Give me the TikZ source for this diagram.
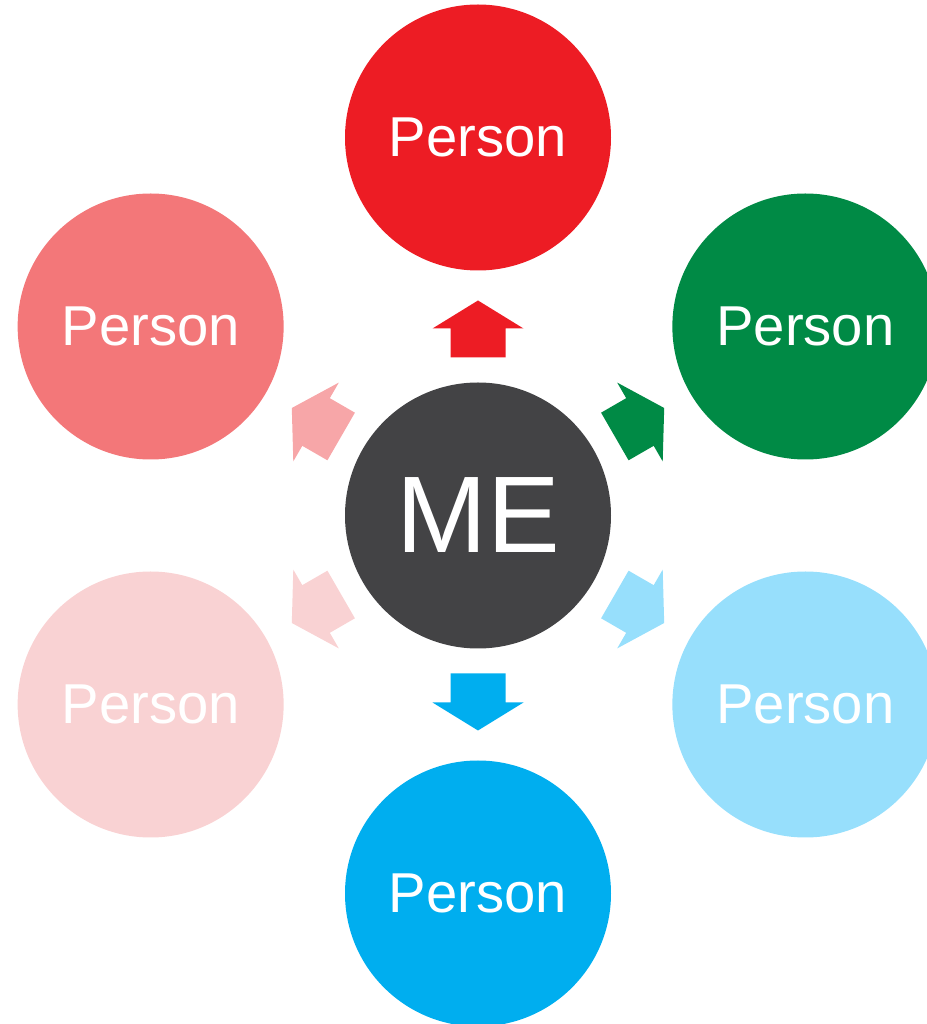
\documentclass[tikz,border=0pt]{standalone}
\usepackage{fontspec}
\setmainfont{Liberation Sans}
\usetikzlibrary{calc}
\definecolor{medark}{HTML}{434345}
\definecolor{pred}{HTML}{ED1C24}
\definecolor{pgreen}{HTML}{008A45}
\definecolor{plblue}{HTML}{97DFFC}
\definecolor{pblue}{HTML}{00AEEF}
\definecolor{ppale}{HTML}{F9D2D3}
\definecolor{ppink}{HTML}{F37779}
\definecolor{ppinkarr}{HTML}{F7A6A8}
\tikzset{
  person/.style={circle,minimum size=2.66cm,inner sep=0pt,text=white,
                 font=\fontsize{16}{16}\selectfont},
  mebox/.style={person,fill=medark,font=\fontsize{31}{31}\selectfont},
}

\begin{document}
\begin{tikzpicture}
\useasboundingbox (0,0) rectangle (9.27,10.24);
\clip (0,0) rectangle (9.27,10.24);

% centre circle
\node[mebox] (me) at (4.78,5.085) {ME};

% the six people around it
\foreach \a/\c/\n in {90/pred/top, 30/pgreen/upright, -30/plblue/downright,
                      -90/pblue/bottom, -150/ppale/downleft, 150/ppink/upleft}
  \node[person,fill=\c] (\n) at ($(me)+(\a:3.78)$) {Person};

% block arrows pointing outwards
\foreach \a/\c in {90/pred, 30/pgreen, -30/plblue, -90/pblue, -150/ppale, 150/ppinkarr}
  \fill[\c,shift={($(me)+(\a:1.87)$)},rotate={\a-90}]
    (-0.275,-0.29) -- (0.275,-0.29) -- (0.275,0) -- (0.455,0) -- (0,0.28)
    -- (-0.455,0) -- (-0.275,0) -- cycle;

\end{tikzpicture}
\end{document}
